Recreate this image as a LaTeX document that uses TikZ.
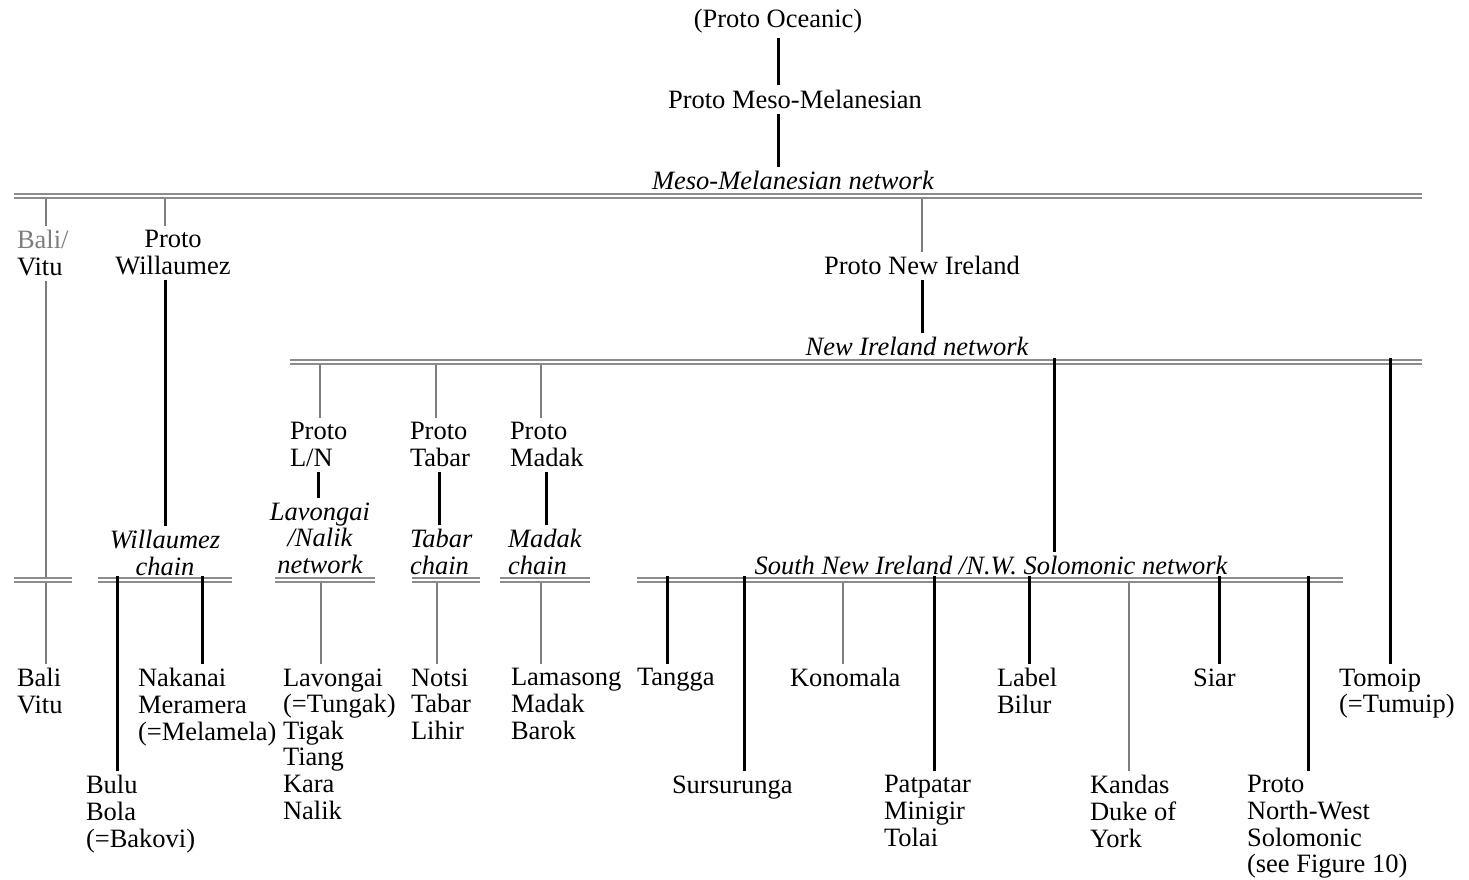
\documentclass[tikz,border=0pt]{standalone}
\usepackage{fontspec}
\setmainfont{Liberation Serif}
\usepackage{tikz}
\usetikzlibrary{calc}
\definecolor{netgrey}{RGB}{140,140,140}
\definecolor{dropgrey}{RGB}{125,125,125}
\definecolor{txtgrey}{RGB}{125,125,125}
\tikzset{
  lang/.style  ={font=\fontsize{26.5}{26.6}\selectfont, inner sep=0pt, outer sep=5pt, align=left},
  netlab/.style={lang, font=\fontsize{26.5}{26.6}\selectfont\itshape},
  net/.style   ={draw=netgrey, line width=2.5pt, double=white, double distance=1.6pt},
  gdrop/.style ={draw=dropgrey, line width=2.5pt},
  bdrop/.style ={draw=black, line width=3pt},
}

\begin{document}
\begin{tikzpicture}[x=1pt,y=-1pt]
\useasboundingbox (0,0) rectangle (1469,880);
% upper levels
\node[lang,anchor=north] (oceanic) at (778,4) {(Proto Oceanic)};
\node[lang,anchor=north] (mesomel) at (795,85.5) {Proto Meso-Melanesian};
\node[netlab,anchor=north] (mmlab) at (793,166.5) {Meso-Melanesian network};
\node[lang,anchor=north west] (bali) at (12,225.5) {{\color{txtgrey}Bali/}\\Vitu};
\node[lang,anchor=north,align=center] (prwill) at (173,225.5) {Proto\\Willaumez};
\node[lang,anchor=north] (prni) at (922,251.5) {Proto New Ireland};
\node[netlab,anchor=north] (nilab) at (917,332.5) {New Ireland network};
\node[lang,anchor=north west] (prln) at (285,417.5) {Proto\\L/N};
\node[lang,anchor=north west] (prtabar) at (405,417.5) {Proto\\Tabar};
\node[lang,anchor=north west] (prmadak) at (505,417.5) {Proto\\Madak};
% chain and network labels
\node[netlab,anchor=north,align=center] (lnlab) at (320,497.5) {Lavongai\\/Nalik\\network};
\node[netlab,anchor=north west] (tabarlab) at (405,524.5) {Tabar\\chain};
\node[netlab,anchor=north west] (madaklab) at (503,524.5) {Madak\\chain};
\node[netlab,anchor=north,align=center] (willlab) at (165,525.5) {Willaumez\\chain};
\node[netlab,anchor=north] (snilab) at (991,551.5) {South New Ireland /N.W. Solomonic network};
% languages
\node[lang,anchor=north west] (balivitu) at (12,663.5) {Bali\\Vitu};
\node[lang,anchor=north west] (nakanai) at (133,663.5) {Nakanai\\Meramera\\(=Melamela)};
\node[lang,anchor=north west] (bulu) at (81,770.5) {Bulu\\Bola\\(=Bakovi)};
\node[lang,anchor=north west] (lavongai) at (278,663.5) {Lavongai\\(=Tungak)\\Tigak\\Tiang\\Kara\\Nalik};
\node[lang,anchor=north west] (notsi) at (406,663.5) {Notsi\\Tabar\\Lihir};
\node[lang,anchor=north west] (lamasong) at (506,663.5) {Lamasong\\Madak\\Barok};
\node[lang,anchor=north west] (tangga) at (632,663.5) {Tangga};
\node[lang,anchor=north west] (sursurunga) at (667,770.5) {Sursurunga};
\node[lang,anchor=north west] (konomala) at (785,663.5) {Konomala};
\node[lang,anchor=north west] (patpatar) at (879,770.5) {Patpatar\\Minigir\\Tolai};
\node[lang,anchor=north west] (labelbilur) at (992,663.5) {Label\\Bilur};
\node[lang,anchor=north west] (kandas) at (1085,770.5) {Kandas\\Duke of\\York};
\node[lang,anchor=north west] (siar) at (1188,663.5) {Siar};
\node[lang,anchor=north west] (pnws) at (1242,770.5) {Proto\\North-West\\Solomonic\\(see Figure 10)};
\node[lang,anchor=north west] (tomoip) at (1334,663.5) {Tomoip\\(=Tumuip)};

% grey drops
\foreach \x/\y/\n in {46/196/bali, 165/196/prwill, 922/196/prni,
    320/362/prln, 436/362/prtabar, 541/362/prmadak,
    321/580/lavongai, 437/580/notsi, 541/580/lamasong,
    843/580/konomala, 1129/580/kandas}{
  \coordinate (g-\n) at (\x,\y);
  \draw[gdrop] (g-\n) -- (g-\n |- \n.north);
}
\draw[gdrop] (g-bali |- bali.south) -- (g-bali |- balivitu.north);

% networks
\coordinate (mmw) at (14,196);   \coordinate (mme) at (1422,196);
\coordinate (niw) at (290,362);  \coordinate (nie) at (1422,362);
\coordinate (baliw) at (14,580); \coordinate (balie) at (72,580);
\coordinate (willw) at (98,580); \coordinate (wille) at (232,580);
\coordinate (lnw) at (275,580);  \coordinate (lne) at (375,580);
\coordinate (tabw) at (412,580); \coordinate (tabe) at (480,580);
\coordinate (madw) at (500,580); \coordinate (made) at (590,580);
\coordinate (sniw) at (637,580); \coordinate (snie) at (1343,580);
\foreach \a/\b in {mmw/mme, niw/nie, baliw/balie, willw/wille, lnw/lne, tabw/tabe, madw/made, sniw/snie}
  \draw[net] (\a) -- (\b);

% black lines
\draw[bdrop] (oceanic.south) -- (oceanic.south |- mesomel.north);
\draw[bdrop] (oceanic.south |- mesomel.south) -- (oceanic.south |- mmlab.north);
\draw[bdrop] (g-prwill |- prwill.south) -- (g-prwill |- willlab.north);
\draw[bdrop] (prni.south) -- (prni.south |- nilab.north);
\draw[bdrop] (prln.south) -- (prln.south |- lnlab.north);
\draw[bdrop] (prtabar.south) -- (prtabar.south |- tabarlab.north);
\draw[bdrop] (prmadak.south) -- (prmadak.south |- madaklab.north);
\foreach \x/\y/\n in {1054/358/snilab, 1390/358/tomoip,
    117/576/bulu, 202/576/nakanai,
    667/576/tangga, 744/576/sursurunga, 934/576/patpatar,
    1029/576/labelbilur, 1219/576/siar, 1308/576/pnws}{
  \coordinate (b-\n) at (\x,\y);
  \draw[bdrop] (b-\n) -- (b-\n |- \n.north);
}
\end{tikzpicture}
\end{document}
